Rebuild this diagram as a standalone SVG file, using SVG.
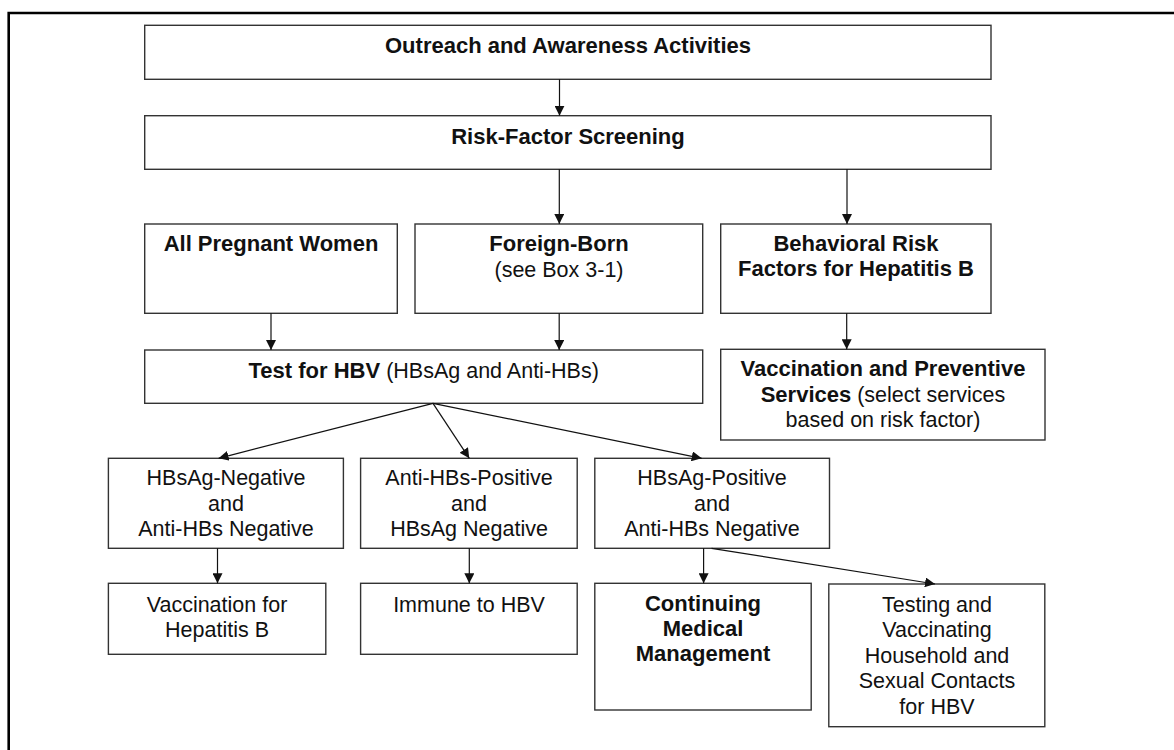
<svg xmlns="http://www.w3.org/2000/svg" width="1174" height="750" viewBox="0 0 1174 750">
<defs>
<marker id="ah" markerUnits="userSpaceOnUse" markerWidth="10" markerHeight="10" refX="10" refY="5" orient="auto"><path d="M0,0 L10,5 L0,10 z" fill="#111"/></marker>
<style>
.box{fill:#fff;stroke:#333;stroke-width:1.4}
.t{font-family:"Liberation Sans",Arial,sans-serif;font-size:21.5px;fill:#111;text-anchor:middle}
.b{font-weight:bold;font-size:22px}
.c{fill:none;stroke:#111;stroke-width:1.2;marker-end:url(#ah)}
.frame{stroke:#000;stroke-width:2.6;fill:none}
</style>
</defs>
<rect width="1174" height="750" fill="#fff"/>
<path class="frame" d="M8.7,750 L8.7,13 L1174,13"/>

<g id="outreach"><rect class="box" x="144.7" y="25.3" width="846.3" height="54"/><text class="t b" x="568" y="52.5">Outreach and Awareness Activities</text></g>
<g id="risk"><rect class="box" x="144.7" y="115.7" width="846.3" height="53.6"/><text class="t b" x="568" y="144">Risk-Factor Screening</text></g>
<g id="pregnant"><rect class="box" x="144.7" y="224" width="252.6" height="89.3"/><text class="t b" x="271" y="250.5">All Pregnant Women</text></g>
<g id="foreign"><rect class="box" x="415" y="224" width="287.7" height="89.3"/><text class="t b" x="559" y="250.5">Foreign-Born</text><text class="t" x="559" y="276.5">(see Box 3-1)</text></g>
<g id="behavioral"><rect class="box" x="720.7" y="224" width="270.3" height="89.3"/><text class="t b" x="856" y="250.5">Behavioral Risk</text><text class="t b" x="856" y="276">Factors for Hepatitis B</text></g>
<g id="test"><rect class="box" x="144.7" y="350" width="558" height="53.3"/><text class="t" x="423.7" y="377.5"><tspan font-weight="bold" font-size="22px">Test for HBV</tspan> (HBsAg and Anti-HBs)</text></g>
<g id="vaccprev"><rect class="box" x="720.7" y="349.3" width="324.3" height="90.7"/><text class="t b" x="883" y="376">Vaccination and Preventive</text><text class="t" x="883" y="401.5"><tspan font-weight="bold" font-size="22px">Services</tspan> (select services</text><text class="t" x="883" y="427">based on risk factor)</text></g>
<g id="neg"><rect class="box" x="108.4" y="458.3" width="235" height="90"/><text class="t" x="226" y="485">HBsAg-Negative</text><text class="t" x="226" y="510.5">and</text><text class="t" x="226" y="536">Anti-HBs Negative</text></g>
<g id="anti"><rect class="box" x="360.6" y="458.3" width="216.6" height="90"/><text class="t" x="469" y="485">Anti-HBs-Positive</text><text class="t" x="469" y="510.5">and</text><text class="t" x="469" y="536">HBsAg Negative</text></g>
<g id="pos"><rect class="box" x="594.8" y="458.3" width="234.7" height="90"/><text class="t" x="712" y="485">HBsAg-Positive</text><text class="t" x="712" y="510.5">and</text><text class="t" x="712" y="536">Anti-HBs Negative</text></g>
<g id="vacc"><rect class="box" x="108.4" y="583.3" width="217.4" height="71"/><text class="t" x="217" y="611.5">Vaccination for</text><text class="t" x="217" y="636.5">Hepatitis B</text></g>
<g id="immune"><rect class="box" x="360.6" y="583.3" width="216.6" height="71"/><text class="t" x="469" y="611.5">Immune to HBV</text></g>
<g id="continuing"><rect class="box" x="594.8" y="583.3" width="216.4" height="126.7"/><text class="t b" x="703" y="611">Continuing</text><text class="t b" x="703" y="636">Medical</text><text class="t b" x="703" y="661">Management</text></g>
<g id="testing"><rect class="box" x="828.8" y="584" width="216" height="142.7"/><text class="t" x="937" y="611.5">Testing and</text><text class="t" x="937" y="637">Vaccinating</text><text class="t" x="937" y="662.5">Household and</text><text class="t" x="937" y="688">Sexual Contacts</text><text class="t" x="937" y="714">for HBV</text></g>

<g id="connectors">
<line class="c" x1="559.5" y1="79.3" x2="559.5" y2="115.7"/>
<line class="c" x1="559.3" y1="169.3" x2="559.3" y2="224"/>
<line class="c" x1="847" y1="169.3" x2="847" y2="224"/>
<line class="c" x1="271" y1="313.3" x2="271" y2="350"/>
<line class="c" x1="559.2" y1="313.3" x2="559.2" y2="350"/>
<line class="c" x1="846.7" y1="313.3" x2="846.7" y2="349.3"/>
<line class="c" x1="433" y1="403.3" x2="218.6" y2="458.3"/>
<line class="c" x1="433" y1="403.3" x2="469.3" y2="458.3"/>
<line class="c" x1="433" y1="403.3" x2="701.7" y2="458.3"/>
<line class="c" x1="217.5" y1="548.3" x2="217.5" y2="583.3"/>
<line class="c" x1="469.3" y1="548.3" x2="469.3" y2="583.3"/>
<line class="c" x1="703.6" y1="548.3" x2="703.6" y2="583.3"/>
<line class="c" x1="711.6" y1="548.3" x2="935" y2="584"/>
</g>
</svg>
